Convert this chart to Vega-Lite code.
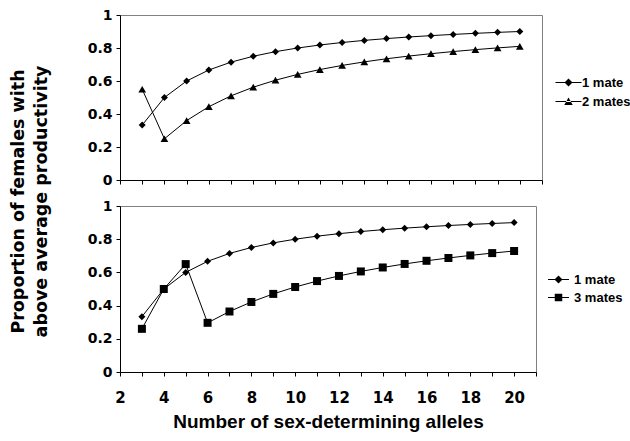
{
  "$schema": "https://vega.github.io/schema/vega-lite/v6.json",
  "padding": {"left": 10, "top": 7, "right": 0, "bottom": 5},
  "background": "white",
  "title": {
    "text": ["Proportion of females with", "above average productivity"],
    "orient": "left",
    "anchor": "middle",
    "font": "DejaVu Sans",
    "fontSize": 17.5,
    "fontWeight": "bold",
    "color": "black",
    "lineHeight": 23,
    "offset": 36,
    "dx": 18
  },
  "datasets": {
    "top": [
      {"n": 3, "series": "1 mate", "value": 0.3333},
      {"n": 4, "series": "1 mate", "value": 0.5},
      {"n": 5, "series": "1 mate", "value": 0.6},
      {"n": 6, "series": "1 mate", "value": 0.6667},
      {"n": 7, "series": "1 mate", "value": 0.7143},
      {"n": 8, "series": "1 mate", "value": 0.75},
      {"n": 9, "series": "1 mate", "value": 0.7778},
      {"n": 10, "series": "1 mate", "value": 0.8},
      {"n": 11, "series": "1 mate", "value": 0.8182},
      {"n": 12, "series": "1 mate", "value": 0.8333},
      {"n": 13, "series": "1 mate", "value": 0.8462},
      {"n": 14, "series": "1 mate", "value": 0.8571},
      {"n": 15, "series": "1 mate", "value": 0.8667},
      {"n": 16, "series": "1 mate", "value": 0.875},
      {"n": 17, "series": "1 mate", "value": 0.8824},
      {"n": 18, "series": "1 mate", "value": 0.8889},
      {"n": 19, "series": "1 mate", "value": 0.8947},
      {"n": 20, "series": "1 mate", "value": 0.9},
      {"n": 3, "series": "2 mates", "value": 0.55},
      {"n": 4, "series": "2 mates", "value": 0.25},
      {"n": 5, "series": "2 mates", "value": 0.36},
      {"n": 6, "series": "2 mates", "value": 0.4444},
      {"n": 7, "series": "2 mates", "value": 0.5102},
      {"n": 8, "series": "2 mates", "value": 0.5625},
      {"n": 9, "series": "2 mates", "value": 0.6049},
      {"n": 10, "series": "2 mates", "value": 0.64},
      {"n": 11, "series": "2 mates", "value": 0.6694},
      {"n": 12, "series": "2 mates", "value": 0.6944},
      {"n": 13, "series": "2 mates", "value": 0.716},
      {"n": 14, "series": "2 mates", "value": 0.7347},
      {"n": 15, "series": "2 mates", "value": 0.7511},
      {"n": 16, "series": "2 mates", "value": 0.7656},
      {"n": 17, "series": "2 mates", "value": 0.7785},
      {"n": 18, "series": "2 mates", "value": 0.7901},
      {"n": 19, "series": "2 mates", "value": 0.8006},
      {"n": 20, "series": "2 mates", "value": 0.81}
    ],
    "bottom": [
      {"n": 3, "series": "1 mate", "value": 0.3333},
      {"n": 4, "series": "1 mate", "value": 0.5},
      {"n": 5, "series": "1 mate", "value": 0.6},
      {"n": 6, "series": "1 mate", "value": 0.6667},
      {"n": 7, "series": "1 mate", "value": 0.7143},
      {"n": 8, "series": "1 mate", "value": 0.75},
      {"n": 9, "series": "1 mate", "value": 0.7778},
      {"n": 10, "series": "1 mate", "value": 0.8},
      {"n": 11, "series": "1 mate", "value": 0.8182},
      {"n": 12, "series": "1 mate", "value": 0.8333},
      {"n": 13, "series": "1 mate", "value": 0.8462},
      {"n": 14, "series": "1 mate", "value": 0.8571},
      {"n": 15, "series": "1 mate", "value": 0.8667},
      {"n": 16, "series": "1 mate", "value": 0.875},
      {"n": 17, "series": "1 mate", "value": 0.8824},
      {"n": 18, "series": "1 mate", "value": 0.8889},
      {"n": 19, "series": "1 mate", "value": 0.8947},
      {"n": 20, "series": "1 mate", "value": 0.9},
      {"n": 3, "series": "3 mates", "value": 0.26},
      {"n": 4, "series": "3 mates", "value": 0.5},
      {"n": 5, "series": "3 mates", "value": 0.65},
      {"n": 6, "series": "3 mates", "value": 0.2963},
      {"n": 7, "series": "3 mates", "value": 0.3644},
      {"n": 8, "series": "3 mates", "value": 0.4219},
      {"n": 9, "series": "3 mates", "value": 0.4705},
      {"n": 10, "series": "3 mates", "value": 0.512},
      {"n": 11, "series": "3 mates", "value": 0.5477},
      {"n": 12, "series": "3 mates", "value": 0.5787},
      {"n": 13, "series": "3 mates", "value": 0.6058},
      {"n": 14, "series": "3 mates", "value": 0.6297},
      {"n": 15, "series": "3 mates", "value": 0.6509},
      {"n": 16, "series": "3 mates", "value": 0.6699},
      {"n": 17, "series": "3 mates", "value": 0.6869},
      {"n": 18, "series": "3 mates", "value": 0.7023},
      {"n": 19, "series": "3 mates", "value": 0.7163},
      {"n": 20, "series": "3 mates", "value": 0.729}
    ]
  },
  "spacing": 10,
  "resolve": {"scale": {"shape": "independent"}, "legend": {"shape": "independent"}},
  "vconcat": [
    {
      "width": 422,
      "height": 165,
      "data": {"name": "top"},
      "encoding": {
        "x": {"field": "n", "type": "quantitative", "scale": {"domain": [2, 21], "nice": false, "zero": false},
              "axis": {"values": [2,3,4,5,6,7,8,9,10,11,12,13,14,15,16,17,18,19,20,21], "labels": false, "title": null}},
        "y": {"field": "value", "type": "quantitative", "scale": {"domain": [0, 1], "nice": false},
              "axis": {"values": [0, 0.2, 0.4, 0.6, 0.8, 1], "labelExpr": "format(datum.value, '~g')", "title": null}}
      },
      "layer": [
        {"mark": {"type": "line", "color": "black", "strokeWidth": 1}, "encoding": {"detail": {"field": "series"}}},
        {"transform": [{"filter": "datum.series == '1 mate'"}],
         "mark": {"type": "point", "shape": "diamond", "filled": true, "color": "black", "size": 49, "opacity": 1}},
        {"transform": [{"filter": "datum.series == '2 mates'"}],
         "mark": {"type": "point", "shape": "triangle-up", "filled": true, "color": "black", "size": 60, "opacity": 1}},
        {"mark": {"type": "point", "filled": true, "color": "black", "opacity": 0},
         "encoding": {"shape": {"field": "series", "type": "nominal",
            "scale": {"domain": ["1 mate", "2 mates"], "range": ["M-2.6,-0.1H2.6V0.1H-2.6ZM0,-0.8L0.8,0L0,0.8L-0.8,0Z", "M-2.6,-0.1H2.6V0.1H-2.6ZM-0.85,0.7L0.85,0.7L0,-0.8Z"]},
            "legend": {"title": null, "orient": "none", "legendX": 442, "legendY": 61, "padding": 0, "symbolSize": 100, "rowPadding": 4,
                       "symbolFillColor": "black", "symbolOpacity": 1,
                       "labelFont": "Liberation Sans", "labelFontSize": 13, "labelFontWeight": "bold", "labelColor": "black", "labelOffset": 7,
                       "encode": {"symbols": {"update": {"opacity": {"value": 1}, "fill": {"value": "black"}}}}}}}}
      ]
    },
    {
      "width": 416,
      "height": 166,
      "data": {"name": "bottom"},
      "encoding": {
        "x": {"field": "n", "type": "quantitative", "scale": {"domain": [2, 21], "nice": false, "zero": false},
              "axis": {"values": [2,3,4,5,6,7,8,9,10,11,12,13,14,15,16,17,18,19,20,21], "labelExpr": "datum.value % 2 == 0 && datum.value <= 20 ? datum.value : ''", "title": "Number of sex-determining alleles"}},
        "y": {"field": "value", "type": "quantitative", "scale": {"domain": [0, 1], "nice": false},
              "axis": {"values": [0, 0.2, 0.4, 0.6, 0.8, 1], "labelExpr": "format(datum.value, '~g')", "title": null}}
      },
      "layer": [
        {"mark": {"type": "line", "color": "black", "strokeWidth": 1}, "encoding": {"detail": {"field": "series"}}},
        {"transform": [{"filter": "datum.series == '1 mate'"}],
         "mark": {"type": "point", "shape": "diamond", "filled": true, "color": "black", "size": 49, "opacity": 1}},
        {"transform": [{"filter": "datum.series == '3 mates'"}],
         "mark": {"type": "point", "shape": "square", "filled": true, "color": "black", "size": 64, "opacity": 1}},
        {"mark": {"type": "point", "filled": true, "color": "black", "opacity": 0},
         "encoding": {"shape": {"field": "series", "type": "nominal",
            "scale": {"domain": ["1 mate", "3 mates"], "range": ["M-2.1,-0.1H2.1V0.1H-2.1ZM0,-0.8L0.8,0L0,0.8L-0.8,0Z", "M-2.1,-0.1H2.1V0.1H-2.1ZM-0.75,-0.75H0.75V0.75H-0.75Z"]},
            "legend": {"title": null, "orient": "none", "legendX": 432, "legendY": 67, "padding": 0, "symbolSize": 100, "rowPadding": 3,
                       "symbolFillColor": "black", "symbolOpacity": 1,
                       "labelFont": "Liberation Sans", "labelFontSize": 13, "labelFontWeight": "bold", "labelColor": "black", "labelOffset": 9,
                       "encode": {"symbols": {"update": {"opacity": {"value": 1}, "fill": {"value": "black"}}}}}}}}
      ]
    }
  ],
  "config": {
    "view": {"stroke": "#808080", "strokeWidth": 1},
    "axis": {
      "grid": false,
      "domainColor": "black",
      "domainWidth": 1,
      "tickColor": "black",
      "tickSize": 4,
      "labelColor": "black",
      "labelFont": "DejaVu Sans",
      "labelFontWeight": "bold",
      "titleFont": "Liberation Sans",
      "titleFontWeight": "bold",
      "titleColor": "black"
    },
    "axisY": {"labelFontSize": 14, "labelPadding": 4},
    "axisX": {"labelFontSize": 15, "labelPadding": 14, "titleFontSize": 19, "titlePadding": 7, "labelFlush": false}
  }
}
